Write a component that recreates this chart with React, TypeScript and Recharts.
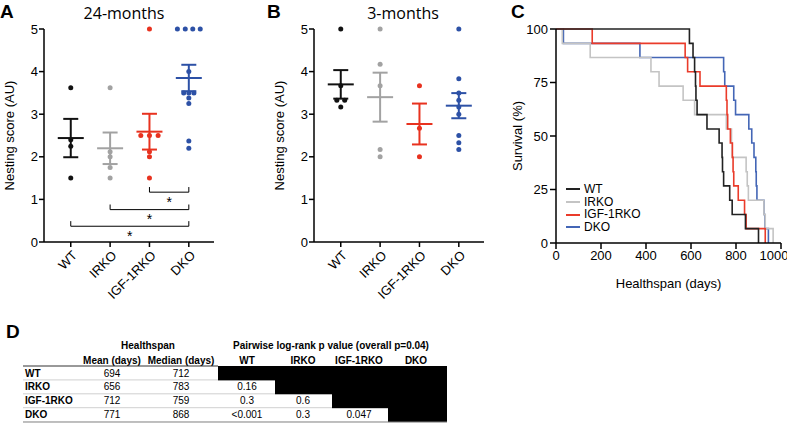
import React from "react"
import { ScatterChart, Scatter, XAxis, YAxis, ErrorBar, LineChart, Line, Legend } from "recharts"

const groups = ["WT", "IRKO", "IGF-1RKO", "DKO"]
const dotColors = ["#111111", "#a2a2a2", "#e8321f", "#2d51a6"]
const curveColors = ["#222222", "#c4c4c4", "#ea3b2a", "#4466b6"]

// nesting scores at 24 months, [jitter, score]
const wt24 = [[0, 3.62], [0, 2.4], [0, 2.25], [0, 1.5]]
const irko24 = [[0, 3.62], [0, 2.12], [0, 2.0], [0, 1.75], [0, 1.5]]
const igf24 = [[0, 5], [-0.22, 2.5], [0, 2.5], [0.22, 2.5], [0, 2.12], [0, 2.0], [0, 1.5]]
const dko24 = [[-0.29, 5], [-0.09, 5], [0.1, 5], [0.29, 5], [0, 4.0], [-0.13, 3.5], [0, 3.5], [0.13, 3.5], [0, 3.38], [0, 3.25], [0, 2.37], [0, 2.2]]
const mean24 = [2.44, 2.2, 2.59, 3.85]
const sem24 = [0.45, 0.37, 0.42, 0.31]
// [from group, to group, bracket level]
const brackets24 = [[2, 3, 1.17], [1, 3, 0.76], [0, 3, 0.37]]

// nesting scores at 3 months
const wt3 = [[0, 5], [0, 3.67], [-0.1, 3.33], [0.1, 3.33], [0, 3.17]]
const irko3 = [[0, 5], [0, 4.17], [0, 3.67], [0, 2.17], [0, 2.0]]
const igf3 = [[0, 3.67], [0, 2.67], [0, 2.0]]
const dko3 = [[0, 5], [0, 3.83], [0, 3.5], [0, 3.33], [0, 3.17], [0, 3.0], [0, 2.5], [0, 2.33], [0, 2.17]]
const mean3 = [3.7, 3.4, 2.77, 3.2]
const sem3 = [0.335, 0.575, 0.48, 0.295]

// healthspan end points (days), one per mouse
const wtDays = [593, 609, 616, 620, 622, 627, 671, 725, 738, 740, 745, 772, 783, 842, 900]
const irkoDays = [28, 152, 422, 458, 565, 616, 757, 780, 783, 845, 850, 855, 924, 930, 965]
const igfDays = [161, 574, 585, 640, 757, 760, 763, 775, 784, 787, 790, 810, 838, 845, 930]
const dkoDays = [33, 373, 745, 750, 790, 798, 857, 870, 880, 888, 890, 893, 924, 929, 944]
const survivalSteps = [93.3, 86.7, 80, 73.3, 66.7, 60, 53.3, 46.7, 40, 33.3, 26.7, 20, 13.3, 6.7, 0]

// table D
const meanDays = [694, 656, 712, 771]
const medianDays = [712, 783, 759, 868]
const pairP = [[], ["0.16"], ["0.3", "0.6"], ["<0.001", "0.3", "0.047"]]

const FONT = "'Liberation Sans', Arial, sans-serif"
const TITLE_FONT = "'Open Sans', sans-serif"
const axisTick = { fill: "#000", fontSize: 13, fontFamily: FONT }

const toPoints = (g: number, pts: number[][]) => pts.map(([dx, v]) => ({ x: g + dx, y: v }))

function SlantTick({ x, y, payload }: any) {
  const px = x + 4
  const py = y + 4
  return (
    <text x={px} y={py} dy="0.35em" textAnchor="end" transform={`rotate(-45 ${px} ${py})`}
      fill="#000" fontSize={13} fontFamily={FONT}>
      {groups[payload.value]}
    </text>
  )
}

function NestingPanel({ points, means, sems, brackets }: { points: number[][][]; means: number[]; sems: number[]; brackets?: number[][] }) {
  return (
    <ScatterChart width={220} height={310} margin={{ top: 29, right: 6, bottom: 10, left: 0 }}>
      <XAxis type="number" dataKey="x" domain={[-0.68, 3.64]} ticks={[0, 1, 2, 3]} allowDataOverflow
        height={58} tick={<SlantTick />} tickSize={5} stroke="#000" strokeWidth={1.5} interval={0} />
      <YAxis type="number" dataKey="y" domain={[0, 5]} ticks={[0, 1, 2, 3, 4, 5]} width={44}
        tick={axisTick} tickSize={5} tickMargin={1} stroke="#000" strokeWidth={1.5}
        label={{ value: "Nesting score (AU)", angle: -90, position: "insideLeft", offset: 9, style: { textAnchor: "middle", fontSize: 13, fontFamily: FONT, fill: "#000" } }} />
      {groups.map((g, i) => (
        <Scatter key={g} data={toPoints(i, points[i])} isAnimationActive={false}
          shape={(p: any) => <circle cx={p.cx} cy={p.cy} r={2.5} fill={dotColors[i]} />} />
      ))}
      {groups.map((g, i) => (
        <Scatter key={g + "-mean"} data={[{ x: i, y: means[i], err: sems[i] }]} isAnimationActive={false}
          shape={(p: any) => <line x1={p.cx - 13} x2={p.cx + 13} y1={p.cy} y2={p.cy} stroke={dotColors[i]} strokeWidth={2} />}>
          <ErrorBar dataKey="err" direction="y" width={7.5} stroke={dotColors[i]} strokeWidth={2} />
        </Scatter>
      ))}
      {(brackets || []).map(([a, b, lv], k) => (
        <Scatter key={"br" + k} isAnimationActive={false}
          data={[{ x: a, y: lv + 0.12 }, { x: a, y: lv }, { x: b, y: lv }, { x: b, y: lv + 0.12 }]}
          line={{ stroke: "#000", strokeWidth: 1 }} shape={() => <g />} />
      ))}
      {(brackets || []).length > 0 && (
        <Scatter isAnimationActive={false}
          data={(brackets || []).map(([a, b, lv]) => ({ x: (a + b) / 2, y: lv - 0.15 }))}
          shape={(p: any) => <text x={p.cx} y={p.cy + 8} textAnchor="middle" fontSize={14} fontFamily={FONT} fill="#000">*</text>} />
      )}
    </ScatterChart>
  )
}

function SurvivalLegend() {
  return (
    <div style={{ fontFamily: FONT, fontSize: 12, lineHeight: "12.7px", color: "#000" }}>
      {groups.map((g, i) => (
        <div key={g} style={{ display: "flex", alignItems: "center" }}>
          <span style={{ display: "inline-block", width: 14, height: 2, background: curveColors[i], marginRight: 4 }} />
          {g}
        </div>
      ))}
    </div>
  )
}

const survivalSeries = [wtDays, irkoDays, igfDays, dkoDays].map((days) => [
  { day: 0, s: 100 },
  ...days.map((d, k) => ({ day: d, s: survivalSteps[k] })),
])

function SurvivalPanel() {
  // draw order: DKO, IRKO, IGF-1RKO, WT (WT on top)
  const order = [3, 1, 2, 0]
  return (
    <LineChart width={277} height={300} margin={{ top: 29, right: 6, bottom: 0, left: 0 }}>
      <XAxis type="number" dataKey="day" domain={[0, 1000]} ticks={[0, 200, 400, 600, 800, 1000]}
        allowDataOverflow height={57} tick={axisTick} tickSize={6} tickMargin={2} stroke="#000" strokeWidth={1.5}
        label={{ value: "Healthspan (days)", position: "insideBottom", offset: 12, style: { fontSize: 13, fontFamily: FONT, fill: "#000" } }} />
      <YAxis type="number" dataKey="s" domain={[0, 100]} ticks={[0, 25, 50, 75, 100]} width={46}
        tick={axisTick} tickSize={6} tickMargin={2} stroke="#000" strokeWidth={1.5}
        label={{ value: "Survival (%)", angle: -90, position: "insideLeft", offset: 7, style: { textAnchor: "middle", fontSize: 13, fontFamily: FONT, fill: "#000" } }} />
      {order.map((i) => (
        <Line key={groups[i]} name={groups[i]} data={survivalSeries[i]} dataKey="s" type="stepAfter"
          stroke={curveColors[i]} strokeWidth={1.6} dot={false} isAnimationActive={false} />
      ))}
      <Legend layout="vertical" align="center" verticalAlign="middle" content={() => <SurvivalLegend />}
        wrapperStyle={{ left: 56, top: 183, width: 90 }} />
    </LineChart>
  )
}

function HealthspanTable() {
  const colX = [112, 181, 247, 303, 359, 416]
  const bounds = [218, 275, 332, 388, 447]
  const y0 = 308 // svg top in page pixels
  const top = 366 - y0
  const rowH = 13.9
  const head = { fontWeight: 700, fontSize: 10, fontFamily: FONT }
  const cell = { fontSize: 10, fontFamily: FONT }
  return (
    <svg width={470} height={424 - y0} style={{ position: "absolute", left: 0, top: y0 }}>
      <text x={6} y={338 - y0} fontSize={19} fontWeight={700} fontFamily={FONT}>D</text>
      <text x={148} y={349 - y0} textAnchor="middle" {...head}>Healthspan</text>
      <text x={331} y={349 - y0} textAnchor="middle" {...head}>Pairwise log-rank p value (overall p=0.04)</text>
      <text x={colX[0]} y={363.5 - y0} textAnchor="middle" {...head}>Mean (days)</text>
      <text x={colX[1]} y={363.5 - y0} textAnchor="middle" {...head}>Median (days)</text>
      {groups.map((g, j) => (
        <text key={g} x={colX[2 + j]} y={363.5 - y0} textAnchor="middle" {...head}>{g}</text>
      ))}
      {groups.map((g, r) => {
        const ty = top + r * rowH + 10.5
        return (
          <g key={g}>
            <rect x={bounds[r]} y={top + r * rowH} width={bounds[4] - bounds[r]} height={rowH + 0.5} fill="#000" />
            <line x1={23} x2={bounds[r]} y1={top + (r + 1) * rowH} y2={top + (r + 1) * rowH} stroke="#c4c4c4" strokeWidth={0.8} />
            <text x={25} y={ty} {...head}>{g}</text>
            <text x={colX[0]} y={ty} textAnchor="middle" {...cell}>{meanDays[r]}</text>
            <text x={colX[1]} y={ty} textAnchor="middle" {...cell}>{medianDays[r]}</text>
            {pairP[r].map((p, c) => (
              <text key={c} x={colX[2 + c]} y={ty} textAnchor="middle" {...cell}>{p}</text>
            ))}
          </g>
        )
      })}
      <line x1={23} x2={bounds[0]} y1={top} y2={top} stroke="#333" strokeWidth={1} />
      <line x1={23} x2={bounds[4]} y1={top + 4 * rowH + 0.5} y2={top + 4 * rowH + 0.5} stroke="#999" strokeWidth={1} />
    </svg>
  )
}

function Headings() {
  const letter = { fontFamily: FONT, fontWeight: 700, fontSize: 19, fill: "#000" }
  const title = { fontFamily: TITLE_FONT, fontSize: 16, fill: "#000", textAnchor: "middle" as const }
  return (
    <svg width={787} height={40} style={{ position: "absolute", left: 0, top: 0, pointerEvents: "none" }}>
      <text x={0} y={18} {...letter}>A</text>
      <text x={267} y={18} {...letter}>B</text>
      <text x={511} y={18} {...letter}>C</text>
      <text x={124} y={18.5} {...title}>24-months</text>
      <text x={403} y={18.5} {...title}>3-months</text>
    </svg>
  )
}

export default function App() {
  return (
    <div style={{ position: "absolute", left: 0, top: 0, width: 787, height: 424, background: "#fff", overflow: "hidden" }}>
      <div style={{ position: "absolute", left: 0, top: 0 }}>
        <NestingPanel points={[wt24, irko24, igf24, dko24]} means={mean24} sems={sem24} brackets={brackets24} />
      </div>
      <div style={{ position: "absolute", left: 270, top: 0 }}>
        <NestingPanel points={[wt3, irko3, igf3, dko3]} means={mean3} sems={sem3} />
      </div>
      <div style={{ position: "absolute", left: 510, top: 0 }}>
        <SurvivalPanel />
      </div>
      <HealthspanTable />
      <Headings />
    </div>
  )
}
